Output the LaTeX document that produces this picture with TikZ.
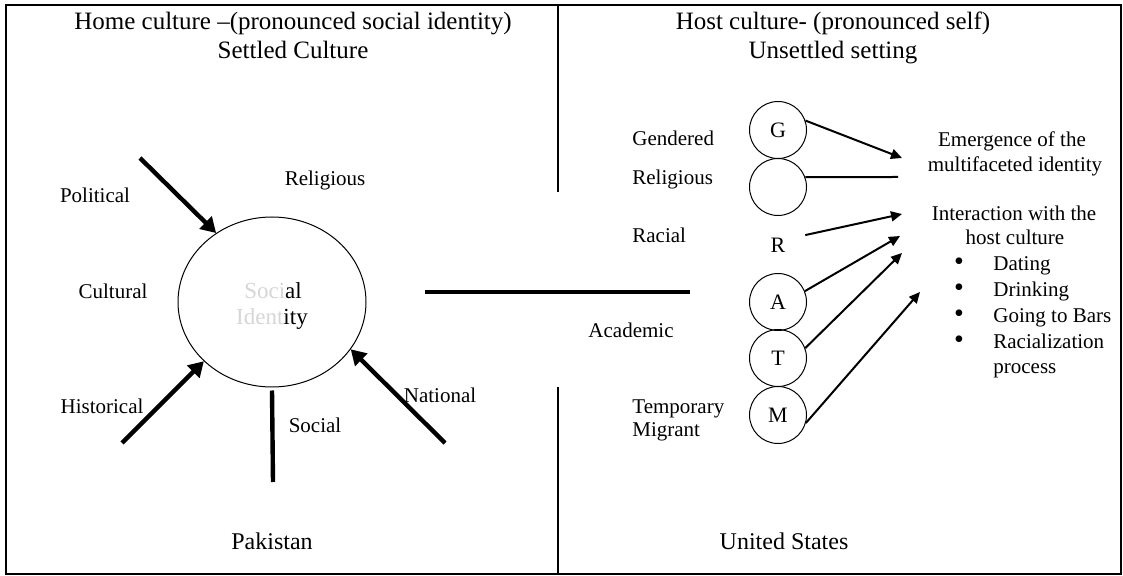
\documentclass[tikz,border=0pt]{standalone}
\usepackage{fontspec}
\setmainfont{Liberation Serif}
\usetikzlibrary{arrows.meta,shapes.geometric}
\definecolor{blurgray}{gray}{0.84}
\begin{document}
\begin{tikzpicture}[x=0.5pt,y=-0.5pt,
 lbl/.style={inner sep=0pt, text height=8pt, text depth=2pt, font=\fontsize{10.5}{12.5}\selectfont},
 ttl/.style={inner sep=0pt, text height=9pt, text depth=3pt, font=\fontsize{12.5}{14}\selectfont},
 bot/.style={inner sep=0pt, text height=9pt, text depth=3pt, font=\fontsize{12}{14}\selectfont},
 sitext/.style={inner sep=0pt, text height=9pt, text depth=2pt, font=\fontsize{11.5}{14}\selectfont},
 bul/.style={inner sep=0pt, text height=6pt, text depth=-1pt, font=\fontsize{14}{14}\selectfont},
 thickarrow/.style={line width=2.2pt, -{Triangle[length=7.5pt,width=8.5pt]}},
 thickline/.style={line width=2.2pt},
 thinarrow/.style={line width=1pt, -{Triangle[length=5.5pt,width=5pt]}},
 thinline/.style={line width=1pt},
 sc/.style={circle, draw, line width=0.5pt, minimum size=28.5pt, inner sep=0pt, font=\fontsize{11}{13}\selectfont},
 frame/.style={line width=0.6pt}
]
\useasboundingbox (0,0) rectangle (1123,576);
\draw[frame] (6,5) rectangle (1121,574);
\draw[frame] (558,5) -- (558,192);
\draw[frame] (558,387) -- (558,574);

% titles
\node[ttl] (tl1) at (293,24) {Home culture –(pronounced social identity)};
\node[ttl] (tl2) at (293,53) {Settled Culture};
\node[ttl] (tr1) at (833,24) {Host culture- (pronounced self)};
\node[ttl] (tr2) at (833,53) {Unsettled setting};
\node[bot] (pak) at (272,543) {Pakistan};
\node[bot] (us) at (784,543) {United States};

% left side
\node[ellipse, draw, line width=0.5pt, minimum width=94pt, minimum height=85pt, inner sep=0pt] (bigc) at (272,302) {};
\node[sitext] (si1) at (273,292) {{\color{blurgray}Soci}al};
\node[sitext] (si2) at (272,318) {{\color{blurgray}Ident}ity};

\node[lbl] (political) at (95,197) {Political};
\node[lbl] (religiousL) at (325,180) {Religious};
\node[lbl] (cultural) at (113,293) {Cultural};
\node[lbl] (historical) at (102,408) {Historical};
\node[lbl] (social) at (315,427) {Social};
\node[lbl] (national) at (440,397) {National};

\coordinate (polS) at (140,158);
\coordinate (hisS) at (122,443);
\coordinate (natS) at (445,443);
\coordinate (socE) at (273,482);
\coordinate (hl1) at (425,292);
\coordinate (hl2) at (690,292);

\draw[thickarrow] (polS) -- (bigc.129.6);
\draw[thickarrow] (hisS) -- (bigc.221.7);
\draw[thickarrow] (natS) -- (bigc.-31);
\draw[thickline] ([yshift=-1.5pt]bigc.south) -- (socE);
\draw[thickline] (hl1) -- (hl2);

% right side labels
\node[lbl, anchor=west] (gendered) at (632,140) {Gendered};
\node[lbl, anchor=west] (religiousR) at (632,179) {Religious};
\node[lbl, anchor=west] (racial) at (632,237) {Racial};
\node[lbl] (academic) at (631,332) {Academic};
\node[lbl, anchor=west] (temp) at (632,408) {Temporary};
\node[lbl, anchor=west] (mig) at (632,431) {Migrant};

% circles
\node[sc] (cG) at (778,130) {G};
\node[sc] (cRel) at (778,187) {};
\node[sc, draw=none] (cR) at (778,245) {R};
\node[sc] (cA) at (778,302) {A};
\node[sc] (cT) at (778,358) {T};
\node[sc] (cM) at (778,415) {M};

% right text
\node[lbl] (em1) at (1012,141) {Emergence of the};
\node[lbl] (em2) at (1015,166) {multifaceted identity};
\node[lbl] (in1) at (1014,215) {Interaction with the};
\node[lbl] (in2) at (1015,239) {host culture};
\foreach \n/\t/\yy in {b1/Dating/265, b2/Drinking/291, b3/Going to Bars/317, b4/Racialization/343} {
  \node[bul] (\n dot) at (959,\yy) {•};
  \node[lbl, anchor=west] (\n) at (993,\yy) {\t};
}
\node[lbl, anchor=west] (b5) at (993,368) {process};

\coordinate (tG) at (902,158);
\coordinate (tRel) at (898,177);
\coordinate (tR) at (902,214);
\coordinate (tA) at (900,236);
\coordinate (tT) at (902,253);
\coordinate (tM) at (920,292);

\draw[thinarrow] (cG.19) -- (tG);
\draw[thinline] (cRel.20) -- (tRel);
\draw[thinarrow] (cR.20) -- (tR);
\draw[thinarrow] (cA.22) -- (tA);
\draw[thinarrow] (cT.20) -- (tT);
\draw[thinarrow] (cM.-16) -- (tM);
\end{tikzpicture}
\end{document}
